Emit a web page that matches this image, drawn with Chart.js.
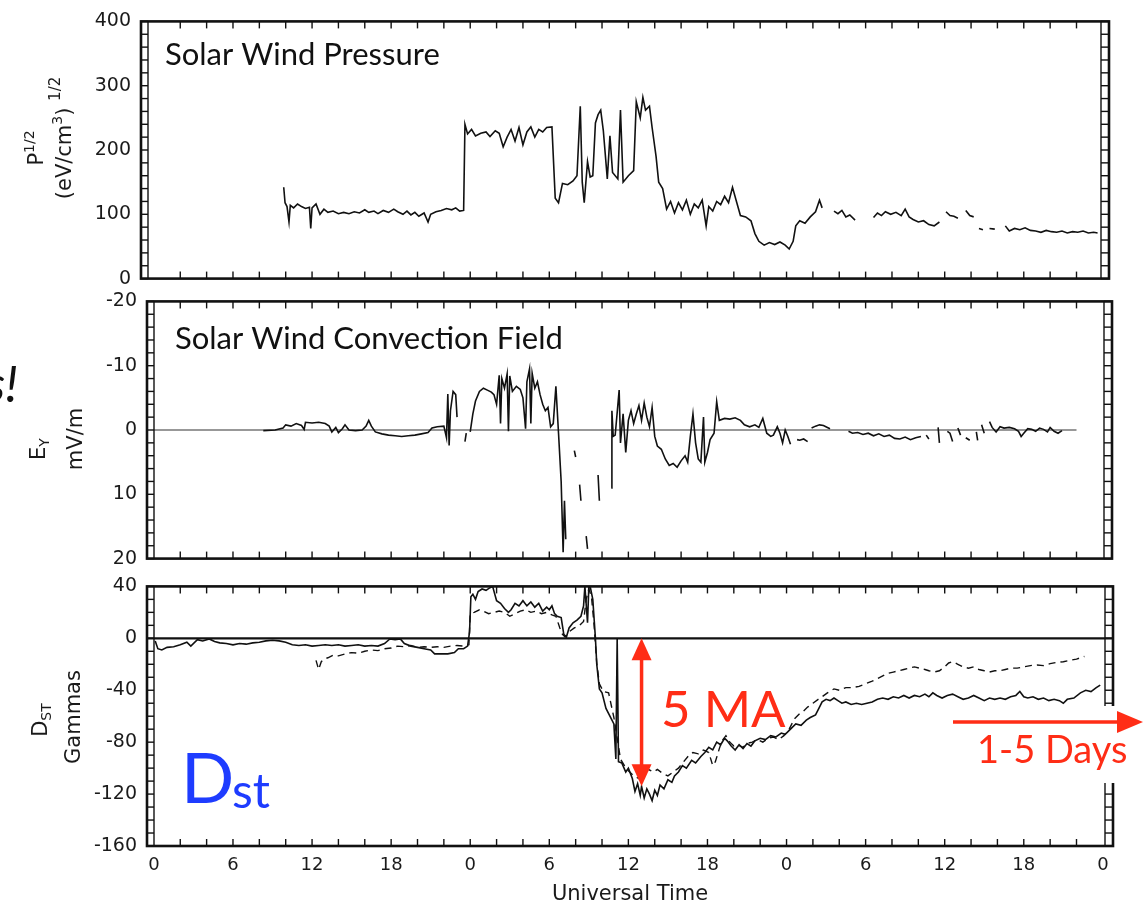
<!DOCTYPE html>
<html>
<head>
<meta charset="utf-8">
<script src="https://cdn.jsdelivr.net/npm/chart.js@4.4.1/dist/chart.umd.min.js"></script>
<style>
  body { margin: 0; background: #fff; width: 1146px; height: 911px; overflow: hidden; position: relative; }
  .panel { position: absolute; left: 0; width: 1146px; }
</style>
</head>
<body>
<div class="panel" style="top:0px;height:300px"><canvas id="pressure-graph"></canvas></div>
<div class="panel" style="top:280px;height:300px"><canvas id="ey-graph"></canvas></div>
<div class="panel" style="top:565px;height:346px"><canvas id="dst-graph"></canvas></div>
<script>
// Time axis (hours since start of day 1), labels wrap every 24 h
let xTickHours = [0, 6, 12, 18, 24, 30, 36, 42, 48, 54, 60, 66, 72];
let xTickLabels = ['0', '6', '12', '18', '0', '6', '12', '18', '0', '6', '12', '18', '0'];

let pressureTicks = [0, 100, 200, 300, 400];
let eyTicks = [-20, -10, 0, 10, 20];
let dstTicks = [40, 0, -40, -80, -120, -160];

// Solar wind pressure P^1/2, null = data gap
let pressureHours = [9.85, 9.95, 10.1, 10.25, 10.35, 10.6, 10.9, 11.2, 11.5, 11.8, 11.9, 12.0, 12.3, 12.6, 12.9, 13.2, 13.6, 14.0, 14.4, 14.8,
  15.2, 15.6, 16.0, 16.3, 16.7, 17.0, 17.4, 17.8, 18.2, 18.5, 18.9, 19.2, 19.5, 19.8, 20.1, 20.5, 20.8, 21.0, 21.4, 21.8,
  22.2, 22.6, 22.9, 23.2, 23.5, 23.6, 23.8, 24.1, 24.4, 24.8, 25.2, 25.5, 25.9, 26.2, 26.5, 26.8, 27.1, 27.4, 27.7, 28.0,
  28.3, 28.6, 28.9, 29.2, 29.5, 29.8, 30.2, 30.45, 30.7, 31.0, 31.4, 31.8, 32.1, 32.35, 32.5, 32.65, 32.9, 33.1, 33.3, 33.5,
  33.7, 33.9, 34.1, 34.4, 34.6, 34.8, 35.2, 35.4, 35.6, 36.0, 36.4, 36.6, 36.9, 37.1, 37.3, 37.6, 37.8, 38.1, 38.3, 38.6,
  38.9, 39.2, 39.5, 39.8, 40.1, 40.4, 40.7, 41.0, 41.3, 41.6, 41.9, 42.1, 42.4, 42.7, 43.0, 43.3, 43.6, 43.9, 44.2, 44.5,
  44.9, 45.3, 45.6, 45.9, 46.3, 46.7, 47.1, 47.5, 47.9, 48.2, 48.5, 48.7, 49.0, 49.4, 49.8, 50.2, 50.5, 50.7, 51.1, 51.6,
  51.9, 52.2, 52.5, 52.8, 53.2, 53.8, 54.6, 54.9, 55.2, 55.5, 55.9, 56.3, 56.7, 57.0, 57.3, 57.6, 58.0, 58.4, 58.8, 59.2,
  59.6, 59.8, 60.1, 60.4, 60.7, 61.0, 61.3, 61.6, 61.9, 62.2, 62.4, 62.6, 62.9, 63.1, 63.4, 63.8, 64.2, 64.6, 64.9, 65.3,
  65.7, 66.1, 66.5, 66.9, 67.3, 67.7, 68.1, 68.5, 68.9, 69.3, 69.7, 70.1, 70.5, 70.9, 71.3, 71.6];
let pressureValues = [142, 118, 112, 88, 114, 110, 116, 112, 109, 111, 78, 110, 116, 100, 108, 103, 105, 101, 103, 101,
  104, 102, 107, 103, 105, 101, 106, 103, 108, 104, 100, 105, 99, 103, 97, 102, 88, 100, 104, 106,
  109, 107, 110, 105, 106, 240, 225, 232, 222, 226, 228, 221, 230, 226, 205, 220, 232, 214, 235, 208,
  228, 236, 220, 232, 228, 235, 236, 125, 118, 148, 146, 152, 160, 268, 150, 118, 182, 158, 160, 242,
  255, 262, 230, 155, 222, 165, 155, 262, 150, 160, 168, 275, 250, 282, 262, 268, 235, 190, 150, 140,
  108, 120, 102, 118, 107, 122, 100, 116, 110, 122, 82, 112, 105, 120, 115, 128, 118, 142, 120, 98,
  96, 90, 70, 58, 52, 56, 53, 57, 52, 46, 58, 82, 90, 86, 96, 104, 122, 110, null, 105,
  101, 106, 96, 99, 91, null, 95, 102, 98, 104, 100, 103, 98, 108, 96, 92, 88, 90, 84, 82,
  88, null, 104, 98, 97, 94, null, 106, 98, 96, null, 78, 76, null, 78, 77, null, 82, 74, 78,
  76, 79, 75, 74, 72, 75, 73, 72, 74, 71, 73, 72, 74, 71, 72, 71];

// Convection field Ey (mV/m), axis drawn reversed
let eyHours = [8.3, 9.2, 9.8, 10.0, 10.4, 10.8, 11.2, 11.4, 11.5, 12.0, 12.5, 13.0, 13.3, 13.5, 13.8, 14.0, 14.3, 14.5, 14.8, 15.3,
  15.8, 16.1, 16.3, 16.5, 16.8, 17.3, 17.8, 18.3, 18.8, 19.3, 19.8, 20.3, 20.8, 21.1, 21.5, 22.0, 22.2, 22.3, 22.4, 22.5,
  22.7, 22.9, 23.0, 23.3, 23.6, 23.7, 23.85, 24.0, 24.2, 24.4, 24.7, 25.0, 25.3, 25.6, 25.8, 26.0, 26.2, 26.3, 26.4, 26.6,
  26.8, 26.9, 27.0, 27.2, 27.5, 27.8, 28.0, 28.2, 28.3, 28.5, 28.6, 28.7, 28.9, 29.1, 29.3, 29.5, 29.7, 29.9, 30.1, 30.3,
  30.5, 30.7, 30.9, 31.05, 31.15, 31.25, 31.5, 31.9, 32.0, 32.15, 32.3, 32.4, 32.6, 32.8, 32.9, 33.3, 33.7, 33.8, 34.2, 34.7,
  34.75, 34.85, 35.0, 35.3, 35.4, 35.6, 35.8, 36.0, 36.2, 36.4, 36.6, 36.8, 37.0, 37.2, 37.4, 37.6, 37.8, 38.0, 38.2, 38.5,
  38.8, 39.1, 39.4, 39.7, 40.0, 40.3, 40.5, 40.7, 40.9, 41.1, 41.3, 41.5, 41.7, 41.8, 42.0, 42.2, 42.5, 42.7, 42.9, 43.3,
  43.7, 44.1, 44.5, 44.8, 45.2, 45.6, 45.9, 46.2, 46.5, 46.8, 47.0, 47.3, 47.5, 47.7, 47.9, 48.1, 48.3, 48.6, 48.8, 49.0,
  49.3, 49.6, 49.75, 49.9, 50.2, 50.5, 50.8, 51.1, 51.3, 52.0, 52.7, 53.0, 53.4, 53.8, 54.2, 54.6, 55.0, 55.4, 55.8, 56.2,
  56.6, 57.0, 57.4, 57.8, 58.2, 58.4, 58.6, 58.8, 59.0, 59.5, 59.6, 59.9, 60.2, 60.4, 60.6, 60.8, 61.0, 61.2, 61.4, 61.6,
  61.9, 62.1, 62.4, 62.5, 62.65, 62.8, 63.0, 63.2, 63.4, 63.6, 63.9, 64.2, 64.5, 64.9, 65.3, 65.6, 65.8, 66.0, 66.3, 66.6,
  66.9, 67.2, 67.5, 67.8, 68.0, 68.3, 68.6, 68.9];
let eyValues = [0.1, 0.0, -0.3, -0.8, -0.6, -1.0, -0.7, -0.1, -1.2, -1.1, -1.2, -1.0, -0.6, 0.3, -0.4, 0.4, -0.2, -0.8, 0.0, 0.1,
  0.0, -0.6, -1.5, -0.6, 0.3, 0.6, 0.8, 0.9, 1.0, 0.9, 0.8, 0.6, 0.4, -0.3, -0.5, -0.6, 1.2, -5.6, 2.4, -3.0,
  -6.0, -5.5, -2.0, null, 1.8, 0.5, null, 0.3, -2.5, -4.5, -6.0, -6.5, -6.2, -5.9, -5.5, -4.0, -8.5, -1.0, -8.0, -6.5,
  -8.7, 0.2, -8.4, -6.0, -6.8, -6.3, -5.0, -0.2, -7.5, -9.5, -1.0, -8.8, -6.5, -7.5, -5.5, -4.0, -3.0, -3.5, -0.5, -1.0,
  -6.8, 0.5, 8.0, 19.0, 11.0, 17.0, null, 3.2, 4.2, null, 8.5, 11.0, null, 16.5, 18.5, null, 7.0, 11.0, null, 9.0,
  -3.0, 1.0, 0.8, -6.2, 2.0, -2.5, 3.5, -1.5, -3.0, -1.0, -2.5, -3.8, -1.5, -4.2, -2.0, -0.5, -3.5, 1.0, 2.5, 3.0,
  4.5, 5.5, 5.2, 5.8, 4.8, 4.0, 5.0, 1.0, -2.5, 2.0, 4.5, 5.0, -2.0, 5.0, 3.5, 1.5, 0.5, -4.4, -1.5, -1.8,
  -1.7, -1.9, -1.5, -0.8, -0.5, -0.8, -0.4, -1.8, 0.5, 1.0, 0.8, -0.5, 0.5, 2.0, 0.0, 1.0, 2.2, null, 1.5, 1.6,
  1.4, 1.8, null, -0.3, -0.6, -0.8, -0.7, -0.4, -0.2, null, 0.2, 0.5, 0.4, 0.7, 0.5, 0.9, 0.6, 1.0, 0.8, 1.3,
  1.4, 1.1, 1.5, 1.2, 1.0, null, 0.8, 1.4, null, -0.4, 2.0, null, 0.2, 0.5, 1.8, null, -0.3, 0.8, null, 1.2,
  1.6, null, 0.3, 1.6, null, -0.8, 0.5, null, -1.3, -0.4, 0.3, -0.5, -0.3, -0.4, -0.2, 0.2, 1.0, 0.5, -0.2, -0.1,
  0.2, -0.3, -0.1, 0.3, -0.4, 0.2, 0.5, 0.1];

// Dst (gammas), solid and dashed traces
let dstSolidHours = [0.1, 0.3, 0.6, 1.0, 1.5, 2.0, 2.5, 2.8, 3.3, 3.7, 4.2, 4.6, 5.0, 5.5, 6.0, 6.5, 7.0, 7.5, 8.0, 8.5,
  9.0, 9.5, 10.0, 10.5, 11.0, 11.5, 12.0, 12.5, 13.0, 13.5, 14.0, 14.5, 15.0, 15.5, 16.0, 16.5, 17.0, 17.5, 17.9, 18.3,
  18.7, 19.0, 19.5, 20.0, 20.5, 21.0, 21.3, 21.8, 22.3, 22.8, 23.1, 23.5, 23.8, 23.95, 24.05, 24.2, 24.4, 24.6, 24.9, 25.2,
  25.5, 25.7, 26.0, 26.3, 26.6, 26.9, 27.1, 27.4, 27.7, 28.0, 28.3, 28.6, 28.9, 29.2, 29.5, 29.8, 30.0, 30.2, 30.4, 30.6,
  30.9, 31.1, 31.3, 31.5, 31.8, 32.1, 32.4, 32.6, 32.7, 32.9, 33.0, 33.1, 33.3, 33.5, 33.6, 33.8, 34.0, 34.3, 34.6, 34.9,
  35.05, 35.15, 35.25, 35.5, 35.8, 36.0, 36.3, 36.5, 36.7, 36.9, 37.0, 37.2, 37.4, 37.6, 37.8, 38.0, 38.2, 38.4, 38.7, 39.0,
  39.3, 39.5, 39.8, 40.1, 40.4, 40.8, 41.1, 41.5, 41.8, 42.1, 42.4, 42.7, 43.0, 43.3, 43.5, 43.8, 44.1, 44.4, 44.7, 45.0,
  45.3, 45.6, 46.0, 46.4, 46.8, 47.2, 47.6, 47.9, 48.3, 48.7, 49.1, 49.5, 49.8, 50.2, 50.5, 50.7, 51.0, 51.3, 51.6, 51.9,
  52.2, 52.5, 52.9, 53.3, 53.7, 54.1, 54.5, 54.9, 55.3, 55.7, 56.1, 56.5, 56.9, 57.3, 57.7, 58.1, 58.5, 58.8, 59.1, 59.4,
  59.8, 60.2, 60.6, 61.0, 61.4, 61.8, 62.2, 62.6, 63.0, 63.4, 63.8, 64.2, 64.6, 65.0, 65.4, 65.7, 66.0, 66.3, 66.7, 67.1,
  67.5, 67.9, 68.3, 68.7, 69.0, 69.3, 69.8, 70.3, 70.7, 71.1, 71.5, 71.8];
let dstSolidValues = [-2, -8, -9, -7, -6.5, -5, -3, -6, -1, -2, -0.5, -2.5, -3.5, -4, -5, -4, -4.5, -3.5, -3, -2,
  -1.5, -2, -3, -5, -5.5, -5, -6, -5.5, -5, -5.5, -5, -6, -5.5, -5, -6, -5.5, -6, -4, -0.5, -1,
  -0.5, -4, -6, -7, -8, -9, -12, -12, -12, -11, -8, -8, -6, 5, 32, 34, 30, 36, 38, 37,
  39, 40, 29, 27, 23, 20, 22, 27, 25, 29, 25, 28, 24, 27, 21, 24, 22, 25, 19, 17,
  16, 3, 1, 8, 12, 14, 17, 25, 40, 12, 40, 40, 30, 0, -20, -39, -42, -54, -60, -66,
  -93, 0, -95, -96, -103, -100, -108, -118, -112, -121, -114, -123, -116, -120, -125, -117, -121, -113, -116, -109,
  -111, -106, -103, -98, -100, -94, -96, -91, -88, -84, -86, -80, -82, -77, -79, -83, -86, -82, -85, -81,
  -83, -79, -77, -78, -75, -76, -73, -74, -70, -66, -67, -63, -61, -59, -53, -49, -47, -48, -46, -48,
  -50, -49, -51, -50, -51, -50, -49, -47, -46, -47, -45, -46, -44, -46, -44, -45, -43, -45, -42, -44,
  -46, -44, -43, -45, -47, -46, -44, -46, -48, -46, -47, -46, -47, -45, -44, -41, -45, -46, -45, -47,
  -46, -48, -47, -48, -50, -47, -46, -42, -40, -41, -38, -36];

let dstDashedHours = [12.3, 12.5, 12.7, 12.9, 13.2, 13.6, 14.0, 14.5, 15.0, 15.5, 16.0, 16.5, 17.0, 17.5, 18.0, 18.5, 19.0, 19.5, 20.0, 20.5,
  21.0, 21.5, 22.0, 22.5, 23.0, 23.5, 23.9, 24.0, 24.3, 24.7, 25.0, 25.4, 25.8, 26.2, 26.6, 27.0, 27.4, 27.8, 28.2, 28.6,
  29.0, 29.4, 29.8, 30.2, 30.5, 30.8, 31.0, 31.2, 31.5, 31.9, 32.3, 32.6, 32.8, 33.0, 33.2, 33.4, 33.6, 33.8, 34.1, 34.5,
  34.9, 35.2, 35.4, 35.7, 36.0, 36.4, 36.8, 37.1, 37.5, 37.9, 38.2, 38.6, 39.0, 39.4, 39.8, 40.2, 40.6, 40.9, 41.3, 41.7,
  42.1, 42.4, 42.6, 42.9, 43.1, 43.4, 43.7, 44.0, 44.3, 44.7, 45.0, 45.4, 45.8, 46.2, 46.6, 47.0, 47.4, 47.8, 48.2, 48.6,
  49.0, 49.3, 49.6, 50.0, 50.4, 50.7, 51.1, 51.6, 52.0, 52.5, 53.0, 53.5, 54.0, 54.5, 54.9, 55.3, 55.7, 56.1, 56.5, 56.9,
  57.3, 57.7, 58.1, 58.5, 58.8, 59.2, 59.6, 60.0, 60.3, 60.6, 61.0, 61.4, 61.8, 62.2, 62.6, 63.0, 63.4, 63.8, 64.2, 64.6,
  65.0, 65.5, 66.0, 66.5, 67.0, 67.5, 68.0, 68.5, 69.0, 69.5, 70.0, 70.6];
let dstDashedValues = [-17, -24, -18, -16, -15, -13, -13.5, -12, -11, -11.5, -10, -9, -9.5, -8, -7.5, -6, -6.5, -5.5, -7, -6.5,
  -7, -6.5, -7, -6, -5.5, -6, -5, 19, 20, 22, 21, 19, 20, 21, 20, 17, 19, 21, 22, 20,
  21, 19, 20, 18, 17, 8, 3, 1, 5, 8, 10, 13, 30, 38, 32, 10, -19, -35, -41, -42,
  -61, -80, -93, -98, -102, -106, -108, -104, -101, -103, -101, -104, -106, -103, -100, -95, -90, -88, -89, -86,
  -88, -98, -95, -85, -79, -75, -80, -83, -82, -84, -81, -80, -78, -80, -77, -76, -78, -75, -70, -62,
  -58, -56, -53, -50, -47, -45, -42, -39, -40, -38, -38, -37, -35, -33, -31, -29, -27, -26, -25, -24,
  -23, -22, -23, -24, -25, -26, -25, -22, -19, -18, -20, -22, -23, -22, -24, -25, -26, -25, -25, -24,
  -23, -23, -22, -21, -20.5, -21, -19.5, -18.5, -18, -17, -16, -14];

// Reference zero line in the convection field panel
let eyZeroHours = [0, 70];
let eyZeroValues = [0, 0];

Chart.defaults.font.family = 'DejaVu Sans';
Chart.defaults.color = '#1a1a1a';

function toPoints(hours, values) {
    return hours.map((h, i) => ({x: h, y: values[i]}));
}

function line(ctx, x1, y1, x2, y2) {
    ctx.beginPath();
    ctx.moveTo(x1, y1);
    ctx.lineTo(x2, y2);
    ctx.stroke();
}

// rotated axis caption built from pieces (normal, super/subscript)
function drawRotated(ctx, pieces, cx, cy) {
    ctx.save();
    ctx.translate(cx, cy);
    ctx.rotate(-Math.PI / 2);
    ctx.fillStyle = '#1a1a1a';
    ctx.textBaseline = 'alphabetic';
    let total = 0;
    pieces.forEach(p => { ctx.font = p.size + 'px "DejaVu Sans"'; total += ctx.measureText(p.text).width; });
    let x = -total / 2;
    pieces.forEach(p => {
        ctx.font = p.size + 'px "DejaVu Sans"';
        ctx.fillText(p.text, x, p.dy);
        x += ctx.measureText(p.text).width;
    });
    ctx.restore();
}

function arrowHead(ctx, tipX, tipY, dirX, dirY, len, half) {
    ctx.beginPath();
    ctx.moveTo(tipX, tipY);
    ctx.lineTo(tipX - dirX * len - dirY * half, tipY - dirY * len + dirX * half);
    ctx.lineTo(tipX - dirX * len + dirY * half, tipY - dirY * len - dirX * half);
    ctx.closePath();
    ctx.fill();
}

// Frame with double side rails, inward ticks and text decorations
function makeFrame(f) {
    return {
        id: 'panelFrame',
        afterDatasetsDraw(chart) {
            const ctx = chart.ctx;
            const a = chart.chartArea;
            const x = chart.scales.x, y = chart.scales.y;
            const off = f.pageTop;
            ctx.save();
            ctx.strokeStyle = '#111';
            if (f.zeroLine) {
                ctx.lineWidth = 2.2;
                line(ctx, a.left, y.getPixelForValue(0), a.right, y.getPixelForValue(0));
            }
            ctx.lineWidth = 2.6;
            ctx.strokeRect(a.left, a.top, a.width, a.height);
            ctx.lineWidth = 1.4;
            const il = a.left + 7, ir = a.right - 8;
            line(ctx, il, a.top, il, a.bottom);
            line(ctx, ir, a.top, ir, a.bottom);
            for (let v = Math.min(y.min, y.max); v <= Math.max(y.min, y.max) + 1e-9; v += f.yMinor) {
                const py = y.getPixelForValue(v);
                line(ctx, a.left, py, il, py);
                line(ctx, ir, py, a.right, py);
            }
            for (let h = 2; h <= 70; h += 2) {
                const px = x.getPixelForValue(h);
                line(ctx, px, a.top, px, a.top + 7);
                line(ctx, px, a.bottom - 7, px, a.bottom);
            }
            ctx.restore();

            (f.captions || []).forEach(c => drawRotated(ctx, c.pieces, c.cx, c.cy - off));
            (f.texts || []).forEach(t => {
                ctx.save();
                ctx.font = t.font;
                ctx.fillStyle = t.color || '#111';
                ctx.textAlign = t.align || 'left';
                ctx.textBaseline = 'alphabetic';
                ctx.fillText(t.text, t.x, t.y - off);
                ctx.restore();
            });
            if (f.annotate) f.annotate(chart, off);
        }
    };
}

function panelOptions(cfg) {
    return {
        responsive: true,
        maintainAspectRatio: false,
        animation: false,
        layout: {padding: {top: cfg.padTop, bottom: cfg.padBottom, left: 0, right: 1146 - cfg.right}},
        elements: {point: {radius: 0}, line: {borderWidth: 1.6, borderColor: '#111', tension: 0}},
        plugins: {
            legend: {display: false},
            tooltip: {enabled: false}
        },
        scales: {
            x: {
                type: 'linear',
                min: cfg.xMin,
                max: cfg.xMax,
                display: cfg.showX,
                afterFit: s => { s.height = cfg.showX ? 65 : 0; },
                afterBuildTicks: s => { s.ticks = xTickHours.map(v => ({value: v})); },
                grid: {display: false, drawTicks: false},
                border: {display: false},
                ticks: {
                    padding: 9,
                    font: {size: 18},
                    callback: v => xTickLabels[xTickHours.indexOf(v)]
                },
                title: {display: true, text: 'Universal Time', font: {size: 21}, padding: {top: 4, bottom: 4}}
            },
            y: {
                type: 'linear',
                min: cfg.yMin,
                max: cfg.yMax,
                reverse: !!cfg.reverse,
                afterFit: s => { s.width = cfg.left; },
                afterBuildTicks: s => { s.ticks = cfg.yTicks.map(v => ({value: v})); },
                grid: {display: false, drawTicks: false},
                border: {display: false},
                ticks: {padding: 10, font: {size: 19}}
            }
        }
    };
}

// hour -> pixel map shared by all panels: 0 h at x=153.9, 13.18 px per hour
const pxPerHour = 13.18, zeroPx = 153.9;
const hourAt = px => (px - zeroPx) / pxPerHour;

let pressureChart = new Chart(document.getElementById('pressure-graph'), {
    type: 'line',
    data: {datasets: [{label: 'Solar Wind Pressure', data: toPoints(pressureHours, pressureValues)}]},
    options: panelOptions({
        padTop: 18, padBottom: 16, left: 141, right: 1109,
        xMin: hourAt(141), xMax: hourAt(1109), showX: false,
        yMin: 0, yMax: 400, yTicks: pressureTicks
    }),
    plugins: [makeFrame({
        pageTop: 0, yMinor: 20,
        captions: [
            {cx: 36, cy: 148, pieces: [{text: 'P', size: 21, dy: 7}, {text: '1/2', size: 14, dy: -2}]},
            {cx: 64, cy: 138, pieces: [{text: '(eV/cm', size: 21, dy: 7}, {text: '3', size: 14, dy: -2},
                {text: ') ', size: 21, dy: 7}, {text: '1/2', size: 15, dy: -4}]}
        ],
        texts: [{text: 'Solar Wind Pressure', x: 165, y: 65, font: '31px Lato'}]
    })]
});

let eyChart = new Chart(document.getElementById('ey-graph'), {
    type: 'line',
    data: {datasets: [
        {label: 'Ey', data: toPoints(eyHours, eyValues)},
        {label: 'zero', data: toPoints(eyZeroHours, eyZeroValues), borderWidth: 1.1, borderColor: '#333'}
    ]},
    options: panelOptions({
        padTop: 17, padBottom: 18, left: 147, right: 1112,
        xMin: hourAt(147), xMax: hourAt(1112), showX: false,
        yMin: -20, yMax: 20, reverse: true, yTicks: eyTicks
    }),
    plugins: [makeFrame({
        pageTop: 280, yMinor: 2,
        captions: [
            {cx: 38, cy: 449, pieces: [{text: 'E', size: 21, dy: 7}, {text: 'Y', size: 14, dy: 11}]},
            {cx: 75, cy: 439, pieces: [{text: 'mV/m', size: 21, dy: 7}]}
        ],
        texts: [
            {text: 'Solar Wind Convection Field', x: 175, y: 349, font: '31px Lato'},
            {text: 's!', x: 18, y: 402, font: 'italic 50px Lato', align: 'right'}
        ]
    })]
});

let dstChart = new Chart(document.getElementById('dst-graph'), {
    type: 'line',
    data: {datasets: [
        {label: 'Dst', data: toPoints(dstSolidHours, dstSolidValues)},
        {label: 'Dst corrected', data: toPoints(dstDashedHours, dstDashedValues), borderDash: [7, 5], borderWidth: 1.4}
    ]},
    options: panelOptions({
        padTop: 15, padBottom: 0, left: 147, right: 1113,
        xMin: hourAt(147), xMax: hourAt(1113), showX: true,
        yMin: -160, yMax: 40, yTicks: dstTicks
    }),
    plugins: [makeFrame({
        pageTop: 565, yMinor: 10, zeroLine: true,
        captions: [
            {cx: 40, cy: 720, pieces: [{text: 'D', size: 21, dy: 7}, {text: 'ST', size: 14, dy: 11}]},
            {cx: 73, cy: 717, pieces: [{text: 'Gammas', size: 21, dy: 7}]}
        ],
        texts: [
            {text: 'D', x: 181, y: 803, font: '70px Lato', color: '#1e3cff'},
            {text: 'st', x: 232, y: 808, font: '48px Lato', color: '#1e3cff'},
            {text: '5 MA', x: 661, y: 727, font: '51px Lato', color: '#ff2d16'}
        ],
        annotate: (chart, off) => {
            const ctx = chart.ctx, x = chart.scales.x, y = chart.scales.y;
            const red = '#ff2d16';
            ctx.save();
            // storm amplitude arrow
            const ax = x.getPixelForValue(37.0), y1 = y.getPixelForValue(0), y2 = y.getPixelForValue(-114);
            ctx.strokeStyle = red;
            ctx.fillStyle = red;
            ctx.lineWidth = 3.5;
            line(ctx, ax, y1 + 18, ax, y2 - 18);
            arrowHead(ctx, ax, y1, 0, -1, 22, 10);
            arrowHead(ctx, ax, y2, 0, 1, 22, 10);
            // recovery arrow over a white patch
            ctx.fillStyle = '#fff';
            ctx.fillRect(950, 706 - off, 196, 77);
            const hy = y.getPixelForValue(-64.5);
            const hx1 = x.getPixelForValue(hourAt(953)), hx2 = x.getPixelForValue(hourAt(1143));
            ctx.fillStyle = red;
            line(ctx, hx1, hy, hx2 - 20, hy);
            arrowHead(ctx, hx2, hy, 1, 0, 26, 11);
            ctx.font = '38px Lato';
            ctx.fillText('1-5 Days', 977, 763 - off);
            ctx.restore();
        }
    })]
});
</script>
</body>
</html>
